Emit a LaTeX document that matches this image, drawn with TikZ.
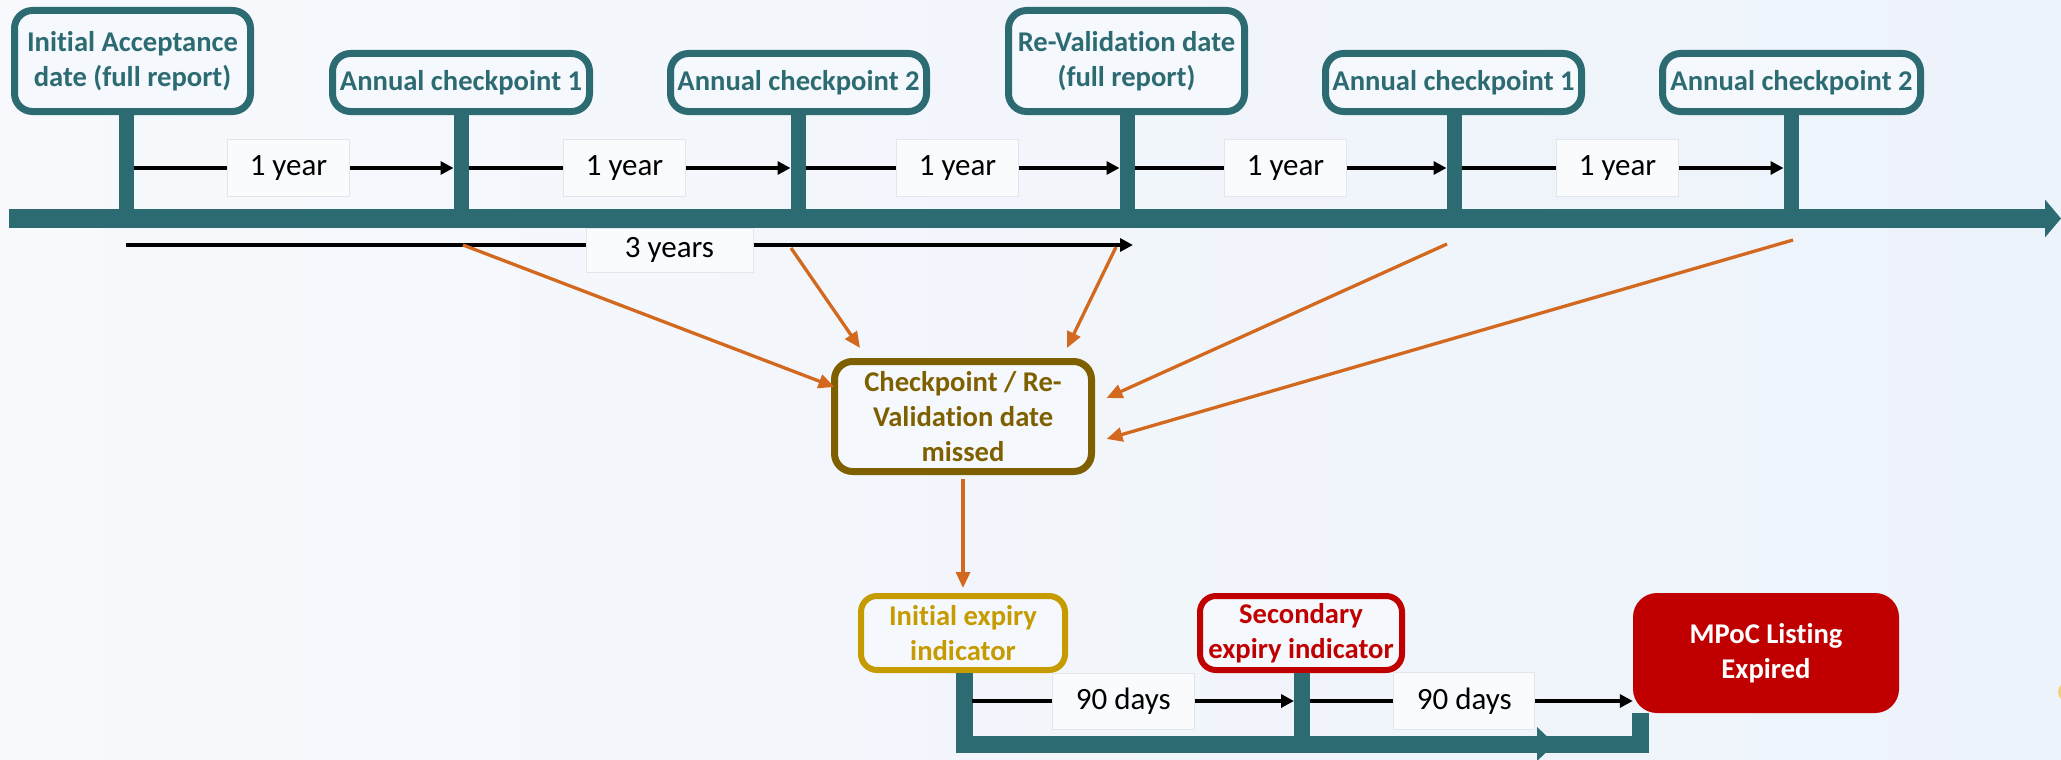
\documentclass[tikz,border=0pt]{standalone}
\usepackage{fontspec}
\setmainfont{Carlito}[Ligatures=NoCommon]
\usetikzlibrary{arrows.meta,calc}

\definecolor{tealc}{HTML}{2D6B73}
\definecolor{orangec}{HTML}{D2691F}
\definecolor{missc}{HTML}{7F6000}
\definecolor{goldc}{HTML}{C59B00}
\definecolor{redc}{HTML}{C00000}
\definecolor{bgl}{HTML}{F7F9FC}
\definecolor{bgr}{HTML}{EDF3FB}
\definecolor{boxfill}{HTML}{F5F8FC}
\definecolor{lblfill}{HTML}{F9FBFD}
\definecolor{lblborder}{HTML}{E2E6EB}
\definecolor{dotc}{HTML}{F2D27A}

\newcommand{\cardfont}{\fontsize{28.6}{35}\selectfont\bfseries}
\newcommand{\spanfont}{\fontsize{31}{37}\selectfont}

\begin{document}
\begin{tikzpicture}[x=1pt,y=-1pt,
  card/.style={draw=tealc, line width=7pt, rounded corners=18pt, fill=boxfill,
    inner sep=0pt, align=center, text=tealc, font=\cardfont},
  stem/.style={draw=tealc, line width=15pt},
  bar/.style={draw=tealc, line width=19pt},
  dur/.style={draw=black, line width=3.3pt, -{Triangle[length=13pt,width=13pt]}},
  lbl/.style={fill=lblfill, draw=lblborder, line width=0.8pt, inner sep=0pt,
    font=\spanfont, text=black, minimum width=122, minimum height=57},
  miss/.style={draw=orangec, line width=3.3pt, -{Triangle[length=16pt,width=14pt]}}
]
% background
\shade[left color=bgl, right color=bgr] (0,0) rectangle (2061,760);
\useasboundingbox (0,0) rectangle (2061,760);

% main time line
\coordinate (tlstart) at (9,218.5);
\coordinate (tlend) at (2061,218.5);
\draw[bar, -{Triangle[length=16pt,width=37pt]}] (tlstart) -- (tlend);

% milestone cards
\node[card, minimum width=236, minimum height=101] (ia)  at (132.5,61)  {Initial Acceptance\\date (full report)};
\node[card, minimum width=257, minimum height=58]  (ac1) at (461,82.5)  {Annual checkpoint 1};
\node[card, minimum width=256, minimum height=58]  (ac2) at (798.5,82.5) {Annual checkpoint 2};
\node[card, minimum width=236, minimum height=101] (rv)  at (1126.5,61) {Re-Validation date\\(full report)};
\node[card, minimum width=256, minimum height=58]  (ac3) at (1453.5,82.5) {Annual checkpoint 1};
\node[card, minimum width=258, minimum height=58]  (ac4) at (1791.5,82.5) {Annual checkpoint 2};

% stems down to the time line
\coordinate (t1) at (126,209);
\coordinate (t2) at (461,209);
\coordinate (t3) at (798,209);
\coordinate (t4) at (1127,209);
\coordinate (t5) at (1454,209);
\coordinate (t6) at (1791,209);
\draw[stem] (ia.south -| t1) -- (t1);
\draw[stem] (ac1.south -| t2) -- (t2);
\draw[stem] (ac2.south -| t3) -- (t3);
\draw[stem] (rv.south -| t4) -- (t4);
\draw[stem] (ac3.south -| t5) -- (t5);
\draw[stem] (ac4.south -| t6) -- (t6);

% yearly spans
\foreach \a/\b/\n in {t1/t2/y1, t2/t3/y2, t3/t4/y3, t4/t5/y4, t5/t6/y5}{
  \draw[dur] ($(\a)+(7.5,-41)$) -- ($(\b)+(-7.5,-41)$)
    node[midway, xshift=-5pt, lbl] (\n) {1 year};
}

% three-year span
\coordinate (m1) at (126,245);
\coordinate (m2) at (1133,245);
\draw[dur] (m1) -- (m2);
\node[lbl, minimum width=167, minimum height=44] (y3y) at (669.5,250) {3 years};

% missed checkpoint
\node[card, draw=missc, text=missc, minimum width=257, minimum height=110] (mis) at (963,416.5)
  {Checkpoint / Re-\\Validation date\\missed};

\coordinate (o1) at (463,245);
\coordinate (o2) at (791,248);
\coordinate (o3) at (1116,247);
\coordinate (o4) at (1447,244);
\coordinate (o5) at (1793,240);
\draw[miss] (o1) -- ($(mis.west)+(3.5,-29.5)$);
\draw[miss] (o2) -- ($(mis.north)+(-103,-10)$);
\draw[miss] (o3) -- ($(mis.north)+(104,-10)$);
\draw[miss] (o4) -- ($(mis.east)+(11.5,-18.5)$);
\draw[miss] (o5) -- ($(mis.east)+(11.5,22.5)$);

% expiry stages
\node[card, draw=goldc, text=goldc, line width=6pt, rounded corners=16pt,
  minimum width=204, minimum height=74] (ie) at (963,633) {Initial expiry\\indicator};
\node[card, draw=redc, text=redc, line width=6pt, rounded corners=16pt,
  minimum width=202, minimum height=74] (se) at (1301,633) {Secondary\\expiry indicator};
\node[fill=redc, rounded corners=24pt, inner sep=0pt, align=center, text=white,
  font=\cardfont, minimum width=266, minimum height=120] (mp) at (1766,653)
  {MPoC Listing\\Expired};

\draw[miss] ($(mis.south)+(0,4)$) -- ($(ie.north)+(0,-5)$);

% lower time line
\coordinate (b1) at (964,744);
\coordinate (b2) at (1640.5,744);
\draw[bar, line width=17pt, miter limit=10] (ie.south -| b1) -- (b1) -- (b2) -- (mp.south -| b2);
\draw[stem, line width=16pt] (se.south -| 1302,0) -- (1302,744);
\fill[tealc] (1537,727) -- (1555,744) -- (1537,761) -- cycle;

% ninety-day spans
\draw[dur] (972,701) -- (1294,701) node[pos=0.47, lbl, minimum width=142, minimum height=56] (d1) {90 days};
\draw[dur] (1310,701) -- (mp.west |- 0,701) node[pos=0.478, lbl, minimum width=141, minimum height=57] (d2) {90 days};

% clipped marker at the right edge
\fill[dotc] (2068,692) circle (10);
\end{tikzpicture}
\end{document}
